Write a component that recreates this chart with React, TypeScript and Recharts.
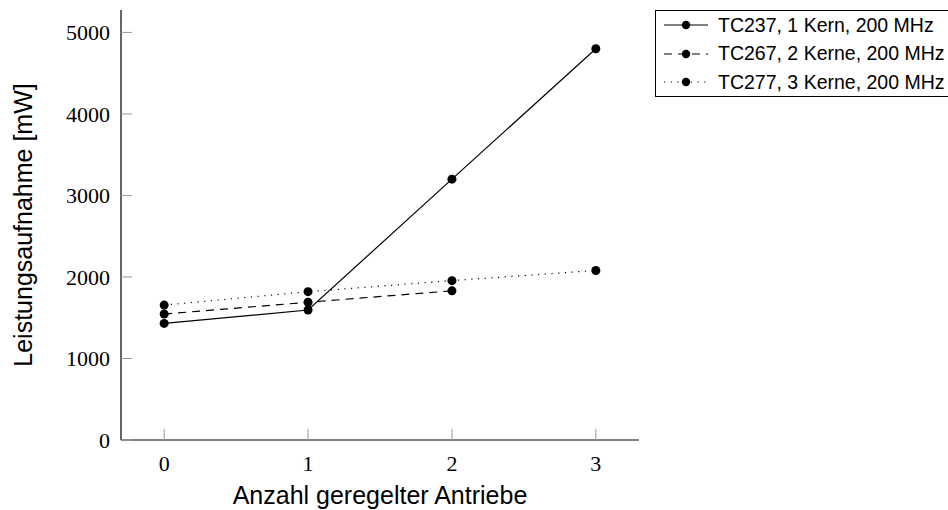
import React from 'react';
import { LineChart, Line, XAxis, YAxis } from 'recharts';

const antriebe = [0, 1, 2, 3];
const tc237 = [1430, 1595, 3200, 4800];
const tc267 = [1545, 1690, 1830, null];
const tc277 = [1655, 1820, 1955, 2080];
const xTicks = [0, 1, 2, 3];
const yTicks = [0, 1000, 2000, 3000, 4000, 5000];
const seriesNames = ['TC237, 1 Kern, 200 MHz', 'TC267, 2 Kerne, 200 MHz', 'TC277, 3 Kerne, 200 MHz'];
const seriesKeys = ['tc237', 'tc267', 'tc277'];
const seriesDash = ['', '8 6', '1.2 5.5'];

const data = antriebe.map((a, i) => ({
  a,
  tc237: tc237[i],
  tc267: tc267[i],
  tc277: tc277[i],
}));

const serif = '"Liberation Serif", "DejaVu Serif", serif';
const sans = '"Liberation Sans", Arial, sans-serif';

const EmptyTick = () => <g />;

function LegendBox() {
  return (
    <div
      style={{
        position: 'absolute',
        left: 655,
        top: 10,
        width: 320,
        height: 87,
        border: '1px solid #000',
        boxSizing: 'border-box',
        fontFamily: sans,
        fontSize: 19.5,
        color: '#000',
        paddingTop: 0,
      }}
    >
      {seriesNames.map((name, i) => (
        <div key={name} style={{ display: 'flex', alignItems: 'center', height: 28.5 }}>
          <svg width={56} height={20} style={{ marginLeft: 6, flex: 'none' }}>
            <line x1={2} y1={10} x2={46} y2={10} stroke="#000" strokeWidth={1.2} strokeDasharray={seriesDash[i] || undefined} />
            <circle cx={24} cy={10} r={4.2} fill="#000" />
          </svg>
          <span style={{ whiteSpace: 'nowrap' }}>{name}</span>
        </div>
      ))}
    </div>
  );
}

export default function App() {
  return (
    <div style={{ position: 'absolute', left: 0, top: 0, width: 948, height: 510, background: '#fff', overflow: 'hidden' }}>
      <LineChart width={948} height={510} data={data} margin={{ top: 10, right: 309, bottom: 0, left: 0 }}>
        <XAxis
          dataKey="a"
          type="number"
          domain={[-0.3, 3.3]}
          ticks={xTicks}
          allowDataOverflow
          height={70}
          tickSize={-11}
          tickMargin={26}
          axisLine={{ stroke: '#000', strokeWidth: 1.2 }}
          tickLine={{ stroke: '#999' }}
          tick={{ fill: '#000', fontFamily: serif, fontSize: 22 }}
          label={{ value: 'Anzahl geregelter Antriebe', position: 'insideBottom', offset: 6, fill: '#000', fontFamily: sans, fontSize: 25 }}
        />
        <XAxis
          xAxisId="top"
          orientation="top"
          dataKey="a"
          type="number"
          domain={[-0.3, 3.3]}
          ticks={xTicks}
          allowDataOverflow
          height={0}
          tickSize={-11}
          axisLine={{ stroke: '#555' }}
          tickLine={{ stroke: '#999' }}
          tick={EmptyTick}
        />
        <YAxis
          type="number"
          domain={[0, 5275]}
          ticks={yTicks}
          allowDataOverflow
          width={121}
          tickSize={-11}
          tickMargin={22}
          axisLine={{ stroke: '#000', strokeWidth: 1.2 }}
          tickLine={{ stroke: '#999' }}
          tick={{ fill: '#000', fontFamily: serif, fontSize: 22 }}
          label={{ value: 'Leistungsaufnahme [mW]', angle: -90, position: 'insideLeft', offset: 23, fill: '#000', fontFamily: sans, fontSize: 25, style: { textAnchor: 'middle' } }}
        />
        <YAxis
          yAxisId="r"
          orientation="right"
          type="number"
          domain={[0, 5275]}
          ticks={yTicks}
          allowDataOverflow
          width={0}
          tickSize={-11}
          axisLine={{ stroke: '#555' }}
          tickLine={{ stroke: '#999' }}
          tick={EmptyTick}
        />
        {seriesKeys.map((k, i) => (
          <Line
            key={k}
            dataKey={k}
            name={seriesNames[i]}
            type="linear"
            stroke="#000"
            strokeWidth={1.2}
            strokeDasharray={seriesDash[i] || undefined}
            dot={{ r: 4.5, fill: '#000', stroke: 'none', strokeDasharray: '' }}
            activeDot={false}
            isAnimationActive={false}
          />
        ))}
      </LineChart>
      <LegendBox />
    </div>
  );
}
